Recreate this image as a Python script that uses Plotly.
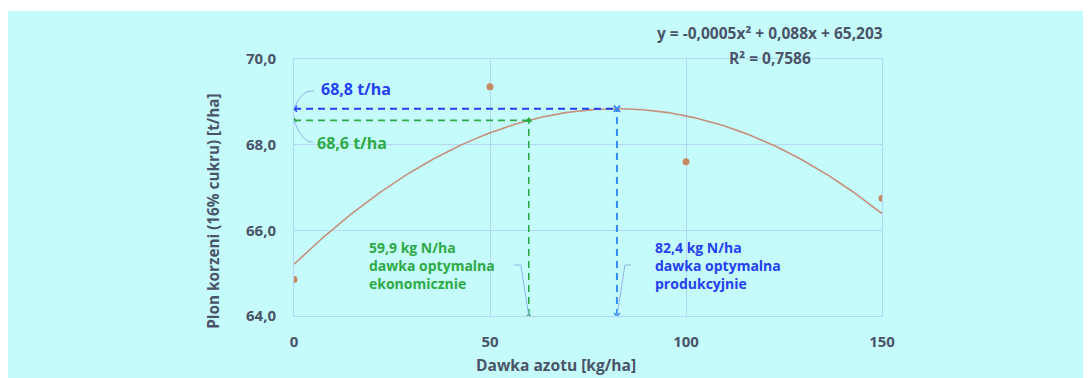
import numpy as np
import plotly.graph_objects as go

# ---- data ----
dose = [0, 50, 100, 150]
yield_t = [64.85, 69.35, 67.6, 66.75]
x_ticks = [0, 50, 100, 150]
y_ticks = [64, 66, 68, 70]
y_tick_labels = ["64,0", "66,0", "68,0", "70,0"]
econ_dose = 59.9
eq_text = "y = -0,0005x² + 0,088x + 65,203"
r2_text = "R² = 0,7586"
label_prod_y = "68,8 t/ha"
label_econ_y = "68,6 t/ha"
label_econ = "59,9 kg N/ha<br>dawka optymalna<br>ekonomicznie"
label_prod = "82,4 kg N/ha<br>dawka optymalna<br>produkcyjnie"

# quadratic trendline (least squares, as the spreadsheet trendline)
coef = np.polyfit(dose, yield_t, 2)
xs = np.linspace(min(dose), max(dose), 200)
ys = np.polyval(coef, xs)
prod_dose = -coef[1] / (2 * coef[0])
prod_y = np.polyval(coef, prod_dose)
econ_y = np.polyval(coef, econ_dose)
y0 = y_ticks[0]

BG = "#c6fbfb"
GRID = "#b4d6f6"
TXT = "#4a5468"
BLUE = "#2340f2"
BLUE2 = "#2f8cf8"
GREEN = "#2daa45"
BROWN = "#c58a62"
FONT = "Open Sans"
W = "bold"

fig = go.Figure()

fig.add_trace(go.Scatter(x=xs, y=ys, mode="lines", line=dict(color="#c4907a", width=1.6),
                         hoverinfo="skip", showlegend=False))
fig.add_trace(go.Scatter(x=dose, y=yield_t, mode="markers",
                         marker=dict(color=BROWN, size=7), showlegend=False))

fig.add_trace(go.Scatter(x=[0, prod_dose], y=[prod_y, prod_y], mode="lines+markers",
                         line=dict(color=BLUE, width=2, dash="7px,5px"),
                         marker=dict(symbol="x-thin", size=6, line=dict(color=BLUE, width=1.5)),
                         showlegend=False))
fig.add_trace(go.Scatter(x=[prod_dose, prod_dose], y=[y0, prod_y], mode="lines+markers",
                         line=dict(color=BLUE2, width=2, dash="7px,5px"),
                         marker=dict(symbol="x-thin", size=6, line=dict(color=BLUE2, width=1.5)),
                         showlegend=False))
fig.add_trace(go.Scatter(x=[0, econ_dose], y=[econ_y, econ_y], mode="lines+markers",
                         line=dict(color=GREEN, width=1.6, dash="7px,5px"),
                         marker=dict(symbol="triangle-up", size=6, color=GREEN),
                         showlegend=False))
fig.add_trace(go.Scatter(x=[econ_dose, econ_dose], y=[y0, econ_y], mode="lines+markers",
                         line=dict(color=GREEN, width=1.6, dash="7px,5px"),
                         marker=dict(symbol="triangle-up", size=6, color=GREEN),
                         showlegend=False))

CALL = "#8fb2ee"
shapes = [
    dict(type="rect", xref="paper", yref="paper", x0=-0.487, x1=1.4, y0=-0.3, y1=1.187,
         fillcolor=BG, line=dict(width=0), layer="below"),
    dict(type="path", xref="x", yref="y", xsizemode="pixel", ysizemode="pixel",
         xanchor=0, yanchor=prod_y, path="M 0 0 Q 5 13 13 17 L 20 18",
         line=dict(color=CALL, width=1)),
    dict(type="path", xref="x", yref="y", xsizemode="pixel", ysizemode="pixel",
         xanchor=0, yanchor=econ_y, path="M 0 0 Q 5 -15 14 -21 L 19 -22",
         line=dict(color=CALL, width=1)),
    dict(type="path", xref="x", yref="y", xsizemode="pixel", ysizemode="pixel",
         xanchor=econ_dose, yanchor=y0, path="M 0 0 L -8 51 L -15 51",
         line=dict(color=CALL, width=1)),
    dict(type="path", xref="x", yref="y", xsizemode="pixel", ysizemode="pixel",
         xanchor=prod_dose, yanchor=y0, path="M 0 0 L 8 51 L 14 51",
         line=dict(color=CALL, width=1)),
]

def f(size, color=TXT):
    return dict(family=FONT, size=size, color=color, weight=W)

ann = [
    dict(text=eq_text, x=0.81, y=1.101, xanchor="center", yanchor="middle", font=f(15.5)),
    dict(text=r2_text, x=0.81, y=1.004, xanchor="center", yanchor="middle", font=f(15.5)),
    dict(text=label_prod_y, x=0.0425, y=0.883, xanchor="left", yanchor="middle", font=f(16, BLUE)),
    dict(text=label_econ_y, x=0.0357, y=0.673, xanchor="left", yanchor="middle", font=f(16, GREEN)),
    dict(text=label_econ, x=0.124, y=0.198, xanchor="left", yanchor="middle", align="left",
         font=f(14, GREEN)),
    dict(text=label_prod, x=0.6105, y=0.198, xanchor="left", yanchor="middle", align="left",
         font=f(14, BLUE)),
    dict(text="Plon korzeni (16% cukru) [t/ha]", x=-0.138, y=0.409, xanchor="center",
         yanchor="middle", textangle=-90, font=f(15.3)),
    dict(text="Dawka azotu [kg/ha]", x=0.446, y=-0.19, xanchor="center", yanchor="middle",
         font=f(15.6)),
]
for a in ann:
    a.update(xref="paper", yref="paper", showarrow=False)

fig.update_layout(
    width=1083, height=370,
    margin=dict(l=286, r=209, t=51, b=62),
    paper_bgcolor="white", plot_bgcolor="rgba(0,0,0,0)",
    shapes=shapes, annotations=ann, showlegend=False,
    xaxis=dict(range=[0, 150], tickvals=x_ticks, showgrid=True, gridcolor=GRID, gridwidth=1,
               zeroline=False, showline=True, linecolor=GRID, mirror=True,
               ticks="outside", ticklen=12, tickcolor="rgba(0,0,0,0)",
               tickfont=f(15)),
    yaxis=dict(range=[64, 70], tickvals=y_ticks, ticktext=y_tick_labels, showgrid=True,
               gridcolor=GRID, gridwidth=1, zeroline=False, showline=True, linecolor=GRID,
               mirror=True, ticks="outside", ticklen=14, tickcolor="rgba(0,0,0,0)",
               tickfont=f(15)),
)

fig.write_html("out.html")
